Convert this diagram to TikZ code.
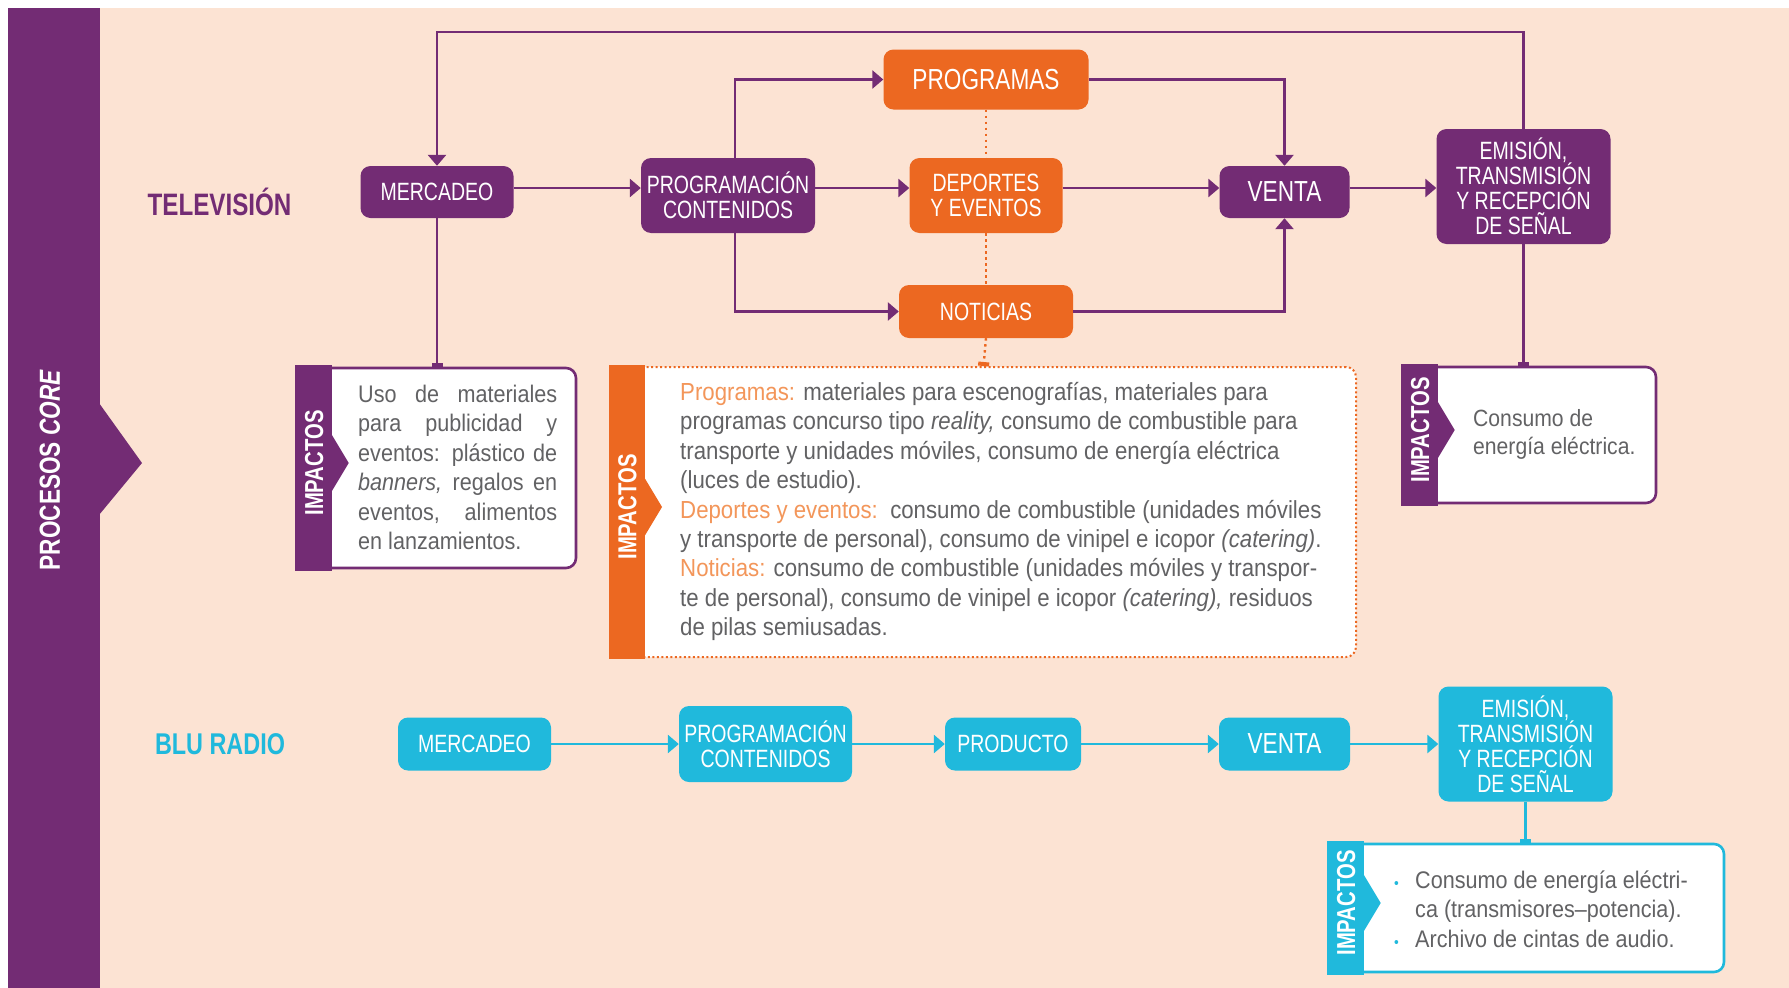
\documentclass[tikz,border=0pt]{standalone}
\usepackage{fontspec}
\newfontfamily\labelfont{Liberation Sans}[FakeStretch=0.78,BoldItalicFont={Liberation Sans Bold Italic}]
\newfontfamily\bodyfont{Liberation Sans}[FakeStretch=0.9]
\usetikzlibrary{arrows.meta}
\definecolor{tvpurple}{RGB}{115,44,116}
\definecolor{tvorange}{RGB}{236,104,33}
\definecolor{softorange}{RGB}{243,150,90}
\definecolor{radiocyan}{RGB}{32,185,220}
\definecolor{peach}{RGB}{252,227,211}
\definecolor{textgray}{RGB}{98,98,100}

\begin{document}
\begin{tikzpicture}[x=1pt,y=-1pt,node distance=116pt,
 box/.style={rounded corners=10pt,text=white,align=center,inner sep=0pt,font=\labelfont\fontsize{25}{25}\selectfont},
 tv node/.style={box,fill=tvpurple},
 prog node/.style={box,fill=tvorange},
 radio node/.style={box,fill=radiocyan},
 big/.style={font=\labelfont\fontsize{29}{29}\selectfont},
 flow/.style={line width=2.8pt,-{Triangle[length=11pt,width=18pt]}},
 tvflow/.style={flow,draw=tvpurple},
 radioflow/.style={flow,draw=radiocyan},
 tick/.style={line width=2.8pt,-{Rectangle[length=4pt,width=11pt]}},
 dots/.style={line width=2.4pt,dash pattern=on 2.4pt off 3.6pt},
 impact/.style={rounded corners=10pt,fill=white,line width=2.6pt,inner sep=0pt},
 impact text/.style={anchor=west,align=left,inner sep=0pt,text=textgray,font=\bodyfont\fontsize{24}{29.4}\selectfont},
 tab text/.style={rotate=90,text=white,inner sep=0pt,font=\labelfont\bfseries\fontsize{26}{26}\selectfont},
 row title/.style={inner sep=0pt,font=\labelfont\bfseries\fontsize{31}{31}\selectfont}]

  % background and side band
  \useasboundingbox (0,0) rectangle (1789,988);
  \fill[white] (0,0) rectangle (1789,988);
  \fill[peach] (8,8) rectangle (1789,988);
  \fill[tvpurple] (8,8) rectangle (99.5,988);
  \fill[tvpurple] (99,403) -- (142,463) -- (99,515) -- cycle;
  \node[tab text,font=\labelfont\bfseries\fontsize{29}{29}\selectfont] (core) at (50,470) {PROCESOS \textit{CORE}};

  \node[row title,text=tvpurple] (tv) at (219.5,201.5) {TELEVISIÓN};
  \node[row title,text=radiocyan,font=\labelfont\bfseries\fontsize{30}{30}\selectfont] (radio) at (220,744) {BLU RADIO};

  % television
  \node[tv node,minimum width=153pt,minimum height=52pt] (merT) at (437,192) {MERCADEO};
  \node[tv node,minimum width=174pt,minimum height=75pt] (progT) at (728,195.5) {PROGRAMACIÓN\\CONTENIDOS};
  \node[prog node,minimum width=153pt,minimum height=75pt] (depo) at (986,195.5) {DEPORTES\\Y EVENTOS};
  \node[prog node,big,minimum width=205pt,minimum height=60pt] (prgm) [above of=depo] {PROGRAMAS};
  \node[prog node,minimum width=174pt,minimum height=53pt] (noti) [below of=depo] {NOTICIAS};
  \node[tv node,big,minimum width=130pt,minimum height=52pt] (ventaT) at (1284.5,192) {VENTA};
  \node[tv node,minimum width=174pt,minimum height=115pt] (emiT) at (1523.5,186.5) {EMISIÓN,\\TRANSMISIÓN\\Y RECEPCIÓN\\DE SEÑAL};

  % blu radio
  \node[radio node,minimum width=153pt,minimum height=53pt] (merR) at (474.5,744) {MERCADEO};
  \node[radio node,minimum width=173pt,minimum height=76pt] (progR) at (765.5,744) {PROGRAMACIÓN\\CONTENIDOS};
  \node[radio node,minimum width=136pt,minimum height=53pt] (prod) at (1013,744) {PRODUCTO};
  \node[radio node,big,minimum width=131pt,minimum height=53pt] (ventaR) at (1284.5,744) {VENTA};
  \node[radio node,minimum width=174pt,minimum height=115pt] (emiR) at (1525.5,744) {EMISIÓN,\\TRANSMISIÓN\\Y RECEPCIÓN\\DE SEÑAL};

  % impact boxes
  \node[impact,draw=tvpurple,minimum width=278pt,minimum height=200pt] (impM) at (437,468) {};
  \node[impact,draw=tvorange,line width=2pt,dash pattern=on 2pt off 2.5pt,minimum width=745pt,minimum height=290pt] (impP) at (983.5,512) {};
  \node[impact,draw=tvpurple,minimum width=252pt,minimum height=136pt] (impE) at (1530,435) {};
  \node[impact,draw=radiocyan,minimum width=394pt,minimum height=128pt] (impR) at (1527,908) {};

  \foreach \b/\c in {impM/tvpurple, impP/tvorange, impE/tvpurple, impR/radiocyan} {
   \fill[\c] ([shift={(-1.3,-1.3)}]\b.north west) rectangle ([shift={(35,1.3)}]\b.south west);
   \fill[\c] ([shift={(34,-35)}]\b.west) -- ([shift={(52,-5)}]\b.west) -- ([shift={(34,25)}]\b.west) -- cycle;
   \node[tab text] (\b tab) at ([shift={(17.5,-5)}]\b.west) {IMPACTOS};}

  \node[impact text] (impMtext) at (358,467.5) {\makebox[199pt][s]{Uso de materiales}\\
   \makebox[199pt][s]{para publicidad y}\\
   \makebox[199pt][s]{eventos: plástico de}\\
   \makebox[199pt][s]{\textit{banners,} regalos en}\\
   \makebox[199pt][s]{eventos, alimentos}\\
   en lanzamientos.};
  \node[impact text,font=\bodyfont\fontsize{24.7}{29.4}\selectfont] (impPtext) at (680,511.5) {{\color{softorange}Programas:} materiales para escenografías, materiales para\\
   programas concurso tipo \textit{reality,} consumo de combustible para\\
   transporte y unidades móviles, consumo de energía eléctrica\\
   (luces de estudio).\\
   {\color{softorange}Deportes y eventos:}\ \ consumo de combustible (unidades móviles\\
   y transporte de personal), consumo de vinipel e icopor \textit{(catering)}.\\
   {\color{softorange}Noticias:} consumo de combustible (unidades móviles y transpor-\\
   te de personal), consumo de vinipel e icopor \textit{(catering),} residuos\\
   de pilas semiusadas.};
  \node[impact text,font=\bodyfont\fontsize{23.5}{28}\selectfont] (impEtext) at (1473,434) {Consumo de\\energía eléctrica.};
  \node[impact text] (impRtext) at (1394,909) {\makebox[21pt][l]{\color{radiocyan}\fontsize{15}{15}\selectfont •}Consumo de energía eléctri-\\
   \hspace*{21pt}ca (transmisores–potencia).\\
   \makebox[21pt][l]{\color{radiocyan}\fontsize{15}{15}\selectfont •}Archivo de cintas de audio.};

  % connectors
  \coordinate (loop) at (1000,32);
  \coordinate (row) at (0,188);
  \foreach \s/\t in {merT/progT, progT/depo, depo/ventaT, ventaT/emiT} {
   \draw[tvflow] (\s.east |- row) -- (\t.west |- row);}
  \draw[tvflow] ([xshift=7pt]progT.north) |- (prgm.west);
  \draw[tvflow] ([xshift=7pt]progT.south) |- (noti.west);
  \draw[tvflow] (prgm.east) -| (ventaT.north);
  \draw[tvflow] (noti.east) -| (ventaT.south);
  \draw[tvflow] (emiT.north) -- (emiT.north |- loop) -| (merT.north);
  \draw[tick,tvpurple] (merT.south) -- (impM.north);
  \draw[tick,tvpurple] (emiT.south) -- (emiT.south |- impE.north);
  \draw[dots,tvorange] (prgm.south) -- (depo.north);
  \draw[dots,tvorange] (depo.south) -- (noti.north);
  \draw[tick,dots,tvorange] (noti.south) -- (impP.north);

  \foreach \s/\t in {merR/progR, progR/prod, prod/ventaR, ventaR/emiR} {
   \draw[radioflow] (\s) -- (\t);}
  \draw[tick,radiocyan] (emiR.south) -- (emiR.south |- impR.north);
\end{tikzpicture}
\end{document}
